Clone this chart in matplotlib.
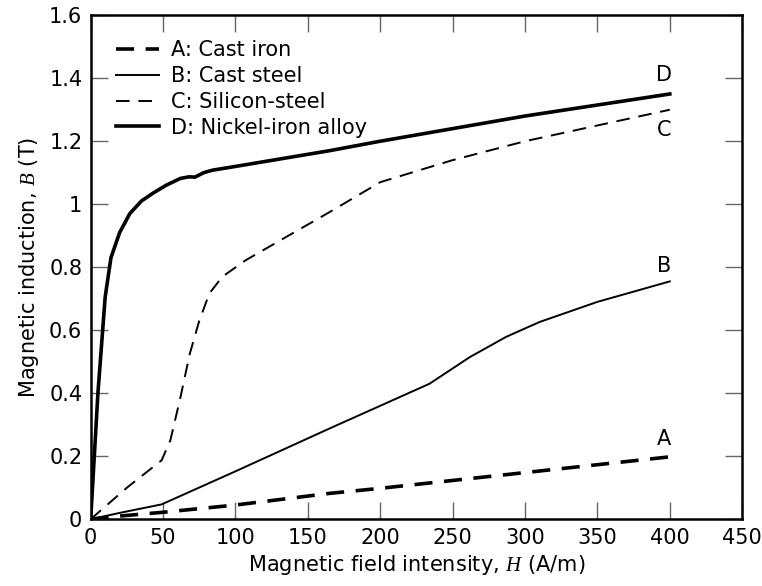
import matplotlib
matplotlib.use("Agg")
from matplotlib import pyplot as plt
from matplotlib.ticker import FuncFormatter

plt.rcParams['font.family'] = ['DejaVu Sans']
plt.rcParams['mathtext.fontset'] = 'custom'
plt.rcParams['mathtext.it'] = 'Liberation Serif:italic'

# A: cast iron
h_a = [0, 20, 50, 100, 165, 200, 250, 300, 350, 400]
b_a = [0, 0.01, 0.022, 0.045, 0.082, 0.098, 0.123, 0.148, 0.173, 0.198]
# B: cast steel
h_b = [0, 20, 49, 100, 165, 200, 234, 262, 287, 310, 350, 400]
b_b = [0, 0.02, 0.047, 0.152, 0.288, 0.36, 0.43, 0.515, 0.579, 0.626, 0.69, 0.755]
# C: silicon steel
h_c = [0, 25, 49, 55, 62, 68.5, 75, 82, 91, 107, 135, 165, 200, 250, 300, 350, 400]
b_c = [0, 0.1, 0.187, 0.25, 0.387, 0.526, 0.63, 0.717, 0.77, 0.822, 0.896, 0.975,
       1.07, 1.14, 1.2, 1.25, 1.3]
# D: nickel-iron alloy
h_d = [0, 5, 10, 14, 20, 27, 35, 43, 52, 62, 68, 72, 78, 84, 100, 165, 200, 250, 300, 350, 400]
b_d = [0, 0.4, 0.705, 0.83, 0.91, 0.97, 1.01, 1.035, 1.06, 1.082, 1.087, 1.086, 1.1,
       1.108, 1.12, 1.17, 1.2, 1.24, 1.28, 1.315, 1.35]

end_labels = ["A", "B", "C", "D"]
end_y = [0.255, 0.805, 1.235, 1.41]

fig = plt.figure(figsize=(7.62, 5.86), dpi=100)
ax = fig.add_axes([0.119, 0.114, 0.855, 0.86])

ax.plot(h_a, b_a, color="black", lw=2.6, dashes=(5, 3.2), label="A: Cast iron")
ax.plot(h_b, b_b, color="black", lw=1.4, label="B: Cast steel")
ax.plot(h_c, b_c, color="black", lw=1.4, dashes=(7, 4.5), label="C: Silicon-steel")
ax.plot(h_d, b_d, color="black", lw=2.6, label="D: Nickel-iron alloy")

for lab, yy in zip(end_labels, end_y):
    ax.text(396, yy, lab, fontsize=15, ha="center", va="center")

ax.set_xlim(0, 450)
ax.set_ylim(0, 1.6)
ax.set_xticks(range(0, 451, 50))
ax.set_yticks([0, 0.2, 0.4, 0.6, 0.8, 1.0, 1.2, 1.4, 1.6])
ax.yaxis.set_major_formatter(FuncFormatter(lambda v, p: "%g" % v))
ax.tick_params(direction="in", top=True, right=True, length=12, width=1,
               labelsize=15, color="#666666", pad=6)
for s in ax.spines.values():
    s.set_linewidth(1.8)

ax.set_xlabel("Magnetic field intensity, $H$ (A/m)", fontsize=15, labelpad=4)
ax.set_ylabel("Magnetic induction, $B$ (T)", fontsize=15, labelpad=6)

ax.legend(loc="upper left", frameon=False, fontsize=15, handlelength=2.1,
          handletextpad=0.55, labelspacing=0.28, borderaxespad=0.6,
          borderpad=0.6)

fig.savefig("out.png", dpi=100)
